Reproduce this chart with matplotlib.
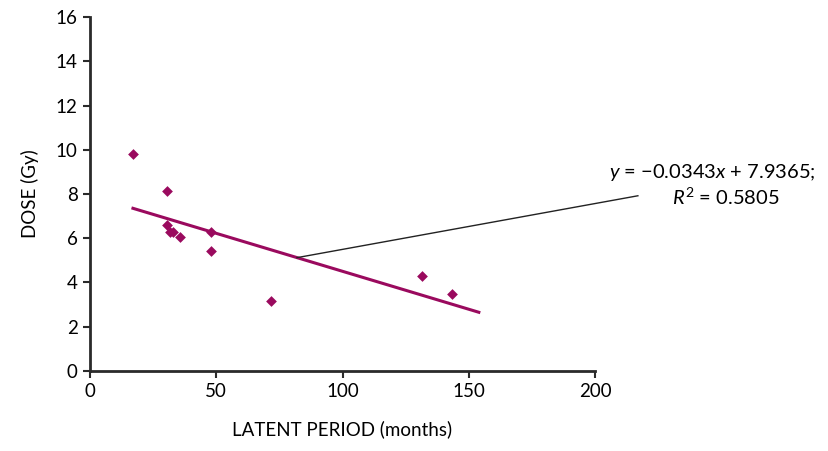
import numpy as np
import matplotlib.pyplot as plt

plt.rcParams['font.family'] = ['Lato', 'DejaVu Sans']
plt.rcParams['mathtext.fontset'] = 'custom'
plt.rcParams['mathtext.rm'] = 'Lato'
plt.rcParams['mathtext.it'] = 'Lato:italic'

latent_months = [17, 30.5, 30.5, 31.7, 32.9, 35.6, 48, 48, 71.7, 131.5, 143.4]
dose_gy = [9.8, 8.14, 6.6, 6.3, 6.3, 6.06, 6.3, 5.43, 3.17, 4.3, 3.48]
slope, intercept = -0.0343, 7.9365
fit_range = (17, 154)

purple = '#9a0a5e'
fig = plt.figure(figsize=(8.29, 4.51), dpi=100)
ax = fig.add_axes([0.1086, 0.1774, 0.6091, 0.7849])

ax.scatter(latent_months, dose_gy, marker='D', s=30, color=purple, zorder=3, linewidths=0)
xf = np.array(fit_range)
ax.plot(xf, slope * xf + intercept, color=purple, linewidth=2.2, zorder=2)

# leader line from the fit to the equation
ax.plot([82, 217], [slope * 82 + intercept, 7.92], color='#222222', lw=1, clip_on=False)
fig.text(0.859, 0.618, '$y$ = \u22120.0343$x$ + 7.9365;', ha='center', va='center', fontsize=14.5)
fig.text(0.876, 0.563, '$R^2$ = 0.5805', ha='center', va='center', fontsize=14.5)

ax.set_xlim(0, 200)
ax.set_ylim(0, 16)
ax.set_xticks(np.arange(0, 201, 50))
ax.set_yticks(np.arange(0, 17, 2))
ax.spines['top'].set_visible(False)
ax.spines['right'].set_visible(False)
for s in ('left', 'bottom'):
    ax.spines[s].set_linewidth(2)
    ax.spines[s].set_color('#2a2a2a')
ax.tick_params(direction='out', length=5, width=1.5, color='#2a2a2a', labelsize=13.5, pad=4)
ax.set_xlabel('LATENT PERIOD (months)', fontsize=13.5, labelpad=14)
ax.set_ylabel('DOSE (Gy)', fontsize=13.5, labelpad=12)

fig.savefig('out.png', dpi=100)
